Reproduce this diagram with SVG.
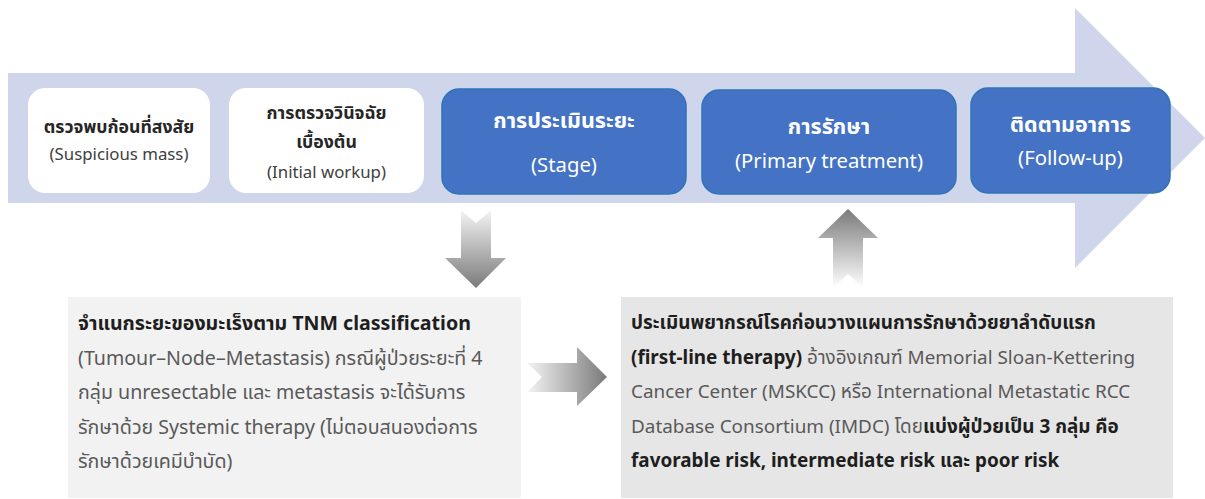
<svg xmlns="http://www.w3.org/2000/svg" width="1205" height="499" viewBox="0 0 1205 499">
<defs>
<linearGradient id="gDown" x1="0" y1="0" x2="0" y2="1"><stop offset="0" stop-color="#f4f4f4"/><stop offset="1" stop-color="#7a7a7a"/></linearGradient>
<linearGradient id="gRight" x1="0" y1="0" x2="1" y2="0"><stop offset="0" stop-color="#f4f4f4"/><stop offset="1" stop-color="#7a7a7a"/></linearGradient>
<linearGradient id="gUp" x1="0" y1="0" x2="0" y2="1"><stop offset="0" stop-color="#7a7a7a"/><stop offset="1" stop-color="#ffffff"/></linearGradient>
<style>
text{font-family:"Noto Sans","Noto Sans Thai","DejaVu Sans",sans-serif;}
.wbox{fill:#ffffff;}
.bbox{fill:#4472c4;stroke:#2e75b6;stroke-width:1.5;}
.t1b{font-size:17.7px;font-weight:bold;fill:#262626;text-anchor:middle;}
.t1r{font-size:16.8px;fill:#404040;text-anchor:middle;}
.t2b{font-size:21.5px;font-weight:bold;fill:#ffffff;text-anchor:middle;}
.t2r{font-size:20.3px;fill:#ffffff;text-anchor:middle;}
.body{font-size:18.9px;fill:#595959;}
.bodyL{font-size:19.6px;fill:#595959;}
.b{font-weight:bold;fill:#1e1e1e;}
</style>
</defs>
<rect width="1205" height="499" fill="#ffffff"/>
<g id="timeline">
<polygon points="8,73 1075,73 1075,8 1205,138 1075,268 1075,203 8,203" fill="#cfd5ea"/>
</g>
<g id="node-suspicious">
<rect class="wbox" x="28" y="88" width="182" height="105" rx="17"/>
<text class="t1b" x="119" y="133">ตรวจพบก้อนที่สงสัย</text>
<text class="t1r" x="119" y="160">(Suspicious mass)</text>
</g>
<g id="node-workup">
<rect class="wbox" x="229" y="88" width="195" height="105" rx="17"/>
<text class="t1b" x="326.5" y="119">การตรวจวินิจฉัย</text>
<text class="t1b" x="326.5" y="148">เบื้องต้น</text>
<text class="t1r" x="326.5" y="178">(Initial workup)</text>
</g>
<g id="node-stage">
<rect class="bbox" x="442" y="89" width="244" height="105" rx="17"/>
<text class="t2b" x="564" y="128">การประเมินระยะ</text>
<text class="t2r" x="564" y="172">(Stage)</text>
</g>
<g id="node-treatment">
<rect class="bbox" x="702" y="90" width="254" height="104" rx="17"/>
<text class="t2b" x="829" y="134">การรักษา</text>
<text class="t2r" x="829" y="168">(Primary treatment)</text>
</g>
<g id="node-followup">
<rect class="bbox" x="971" y="88" width="199" height="105" rx="17"/>
<text class="t2b" x="1070.5" y="132">ติดตามอาการ</text>
<text class="t2r" x="1070.5" y="165">(Follow-up)</text>
</g>
<g id="node-tnm">
<rect x="68" y="297" width="453" height="201" fill="#f2f2f2"/>
<text class="bodyL" x="78" y="330"><tspan class="b">จำแนกระยะของมะเร็งตาม TNM classification</tspan></text>
<text class="bodyL" x="78" y="364.5">(Tumour–Node–Metastasis) กรณีผู้ป่วยระยะที่ 4</text>
<text class="bodyL" x="78" y="399">กลุ่ม unresectable และ metastasis จะได้รับการ</text>
<text class="bodyL" x="78" y="433.5">รักษาด้วย Systemic therapy (ไม่ตอบสนองต่อการ</text>
<text class="bodyL" x="78" y="468">รักษาด้วยเคมีบำบัด)</text>
</g>
<g id="node-prognosis">
<rect x="621" y="297" width="552" height="201" fill="#e7e6e6"/>
<text class="body" x="631" y="329"><tspan class="b">ประเมินพยากรณ์โรคก่อนวางแผนการรักษาด้วยยาลำดับแรก</tspan></text>
<text class="body" x="631" y="363.5"><tspan class="b">(first-line therapy)</tspan> อ้างอิงเกณฑ์ Memorial Sloan-Kettering</text>
<text class="body" x="631" y="398">Cancer Center (MSKCC) หรือ International Metastatic RCC</text>
<text class="body" x="631" y="432.5">Database Consortium (IMDC) โดย<tspan class="b">แบ่งผู้ป่วยเป็น 3 กลุ่ม คือ</tspan></text>
<text class="body" x="631" y="467"><tspan class="b">favorable risk, intermediate risk และ poor risk</tspan></text>
</g>
<g id="connectors">
<polygon points="461,210 476,223 491,210 491,258 506,258 476,288 445,258 461,258" fill="url(#gDown)"/>
<polygon points="527,363 577,363 577,347 607,377 577,406 577,392 527,392 542,377" fill="url(#gRight)"/>
<polygon points="848,209 878,238 863,238 863,288 848,274 833,288 833,238 818,238" fill="url(#gUp)"/>
</g>
</svg>
